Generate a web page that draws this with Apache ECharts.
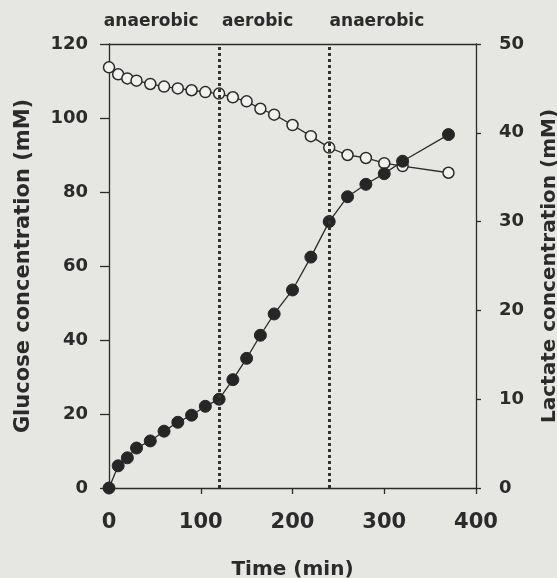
<!DOCTYPE html>
<html>
<head>
<meta charset="utf-8">
<script src="https://cdn.jsdelivr.net/npm/echarts@6/dist/echarts.min.js"></script>
<style>
  html, body { margin: 0; padding: 0; background: #e6e6e3; }
  #chart { width: 557px; height: 578px; }
</style>
</head>
<body>
<div id="chart"></div>
<script>
// Sampling times (min)
const times = [0, 10, 20, 30, 45, 60, 75, 90, 105, 120, 135, 150, 165, 180, 200, 220, 240, 260, 280, 300, 320, 370];
// Glucose concentration (mM), left axis
const glucose = [113.7, 111.8, 110.7, 110.1, 109.2, 108.5, 108.0, 107.5, 107.0, 106.6, 105.6, 104.5, 102.5, 100.9, 98.1, 95.1, 92.0, 90.0, 89.2, 87.8, 87.0, 85.2];
// Lactate concentration (mM), right axis
const lactate = [0, 2.5, 3.4, 4.5, 5.3, 6.4, 7.4, 8.2, 9.2, 10.0, 12.2, 14.6, 17.2, 19.6, 22.3, 26.0, 30.0, 32.8, 34.2, 35.4, 36.8, 39.8];
// Switches between culture conditions (min)
const phaseSwitches = [120, 240];
// Condition names and where they sit along the time axis
const phaseNames = ['anaerobic', 'aerobic', 'anaerobic'];
const phaseNameTimes = [46, 162, 292];

const ink = '#2b2b2b';
const font = 'DejaVu Sans';

const chart = echarts.init(document.getElementById('chart'));

const pairs = (xs, ys) => xs.map((x, i) => [x, ys[i]]);

chart.setOption({
  backgroundColor: '#e6e6e3',
  animation: false,
  grid: { left: 109, right: 81, top: 44, bottom: 90, outerBoundsMode: 'none', containLabel: false },
  xAxis: [
    {
      type: 'value', min: 0, max: 400, interval: 100,
      name: 'Time (min)', nameLocation: 'middle', nameGap: 72,
      nameTextStyle: { fontFamily: font, fontWeight: 'bold', fontSize: 20, color: ink },
      axisLine: { onZero: false, lineStyle: { color: ink, width: 1.3 } },
      axisTick: { show: true, length: 6, lineStyle: { color: ink, width: 1.3 } },
      axisLabel: { margin: 24, fontFamily: font, fontWeight: 'bold', fontSize: 21, color: ink },
      splitLine: { show: false }
    },
    {
      type: 'value', position: 'top', min: 0, max: 400,
      axisLine: { show: true, onZero: false, lineStyle: { color: ink, width: 1.3 } },
      axisTick: { show: false }, axisLabel: { show: false }, splitLine: { show: false }
    }
  ],
  yAxis: [
    {
      type: 'value', min: 0, max: 120, interval: 20,
      name: 'Glucose concentration (mM)', nameLocation: 'middle', nameGap: 75,
      nameTextStyle: { fontFamily: font, fontWeight: 'bold', fontSize: 21, color: ink },
      axisLine: { show: true, onZero: false, lineStyle: { color: ink, width: 1.3 } },
      axisTick: { show: true, length: 9, lineStyle: { color: ink, width: 1.3 } },
      axisLabel: { margin: 21, fontFamily: font, fontWeight: 'bold', fontSize: 18, color: ink },
      splitLine: { show: false }
    },
    {
      type: 'value', min: 0, max: 50, interval: 10, position: 'right',
      name: 'Lactate concentration (mM)', nameLocation: 'middle', nameGap: 64,
      nameTextStyle: { fontFamily: font, fontWeight: 'bold', fontSize: 20, color: ink },
      axisLine: { show: true, onZero: false, lineStyle: { color: ink, width: 1.3 } },
      axisTick: { show: true, length: 5, lineStyle: { color: ink, width: 1.3 } },
      axisLabel: { margin: 23, fontFamily: font, fontWeight: 'bold', fontSize: 18, color: ink },
      splitLine: { show: false }
    }
  ],
  series: [
    {
      name: 'Glucose', type: 'line', xAxisIndex: 0, yAxisIndex: 0,
      data: pairs(times, glucose),
      symbol: 'circle', symbolSize: 11,
      lineStyle: { color: ink, width: 1.3 },
      itemStyle: { color: '#f1f1ef', borderColor: ink, borderWidth: 1.5 },
      markLine: {
        silent: true, symbol: 'none', label: { show: false },
        lineStyle: { color: '#333', type: [3, 3], width: 3 },
        data: phaseSwitches.map(t => ({ xAxis: t }))
      },
      z: 3
    },
    {
      name: 'Lactate', type: 'line', xAxisIndex: 0, yAxisIndex: 1,
      data: pairs(times, lactate),
      symbol: 'circle', symbolSize: 12,
      lineStyle: { color: ink, width: 1.3 },
      itemStyle: { color: '#262626', borderColor: '#262626', borderWidth: 1 },
      z: 4
    },
    {
      name: 'Conditions', type: 'scatter', xAxisIndex: 0, yAxisIndex: 0,
      clip: false, symbolSize: 0, silent: true,
      data: phaseNameTimes.map((t, i) => ({ value: [t, 120], name: phaseNames[i] })),
      label: {
        show: true, position: 'top', distance: 14, opacity: 1,
        formatter: p => p.name,
        fontFamily: font, fontWeight: 'bold', fontSize: 17, color: ink
      }
    }
  ]
});
</script>
</body>
</html>
